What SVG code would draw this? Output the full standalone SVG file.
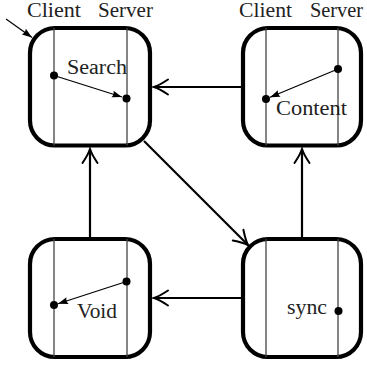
<svg xmlns="http://www.w3.org/2000/svg" width="367" height="368" viewBox="0 0 367 368">
<defs>
<marker id="to" markerUnits="userSpaceOnUse" markerWidth="20" markerHeight="20" viewBox="-16 -10 20 20" refX="0" refY="0" orient="auto">
<path d="M -14 -7.5 Q -5 -1.5 0 0 Q -5 1.5 -14 7.5" fill="none" stroke="#000" stroke-width="2" stroke-linecap="round"/>
</marker>
<marker id="small" markerUnits="userSpaceOnUse" markerWidth="14" markerHeight="10" viewBox="-11 -5 14 10" refX="0" refY="0" orient="auto">
<path d="M -10 -3.5 L 0 0 L -10 3.5 Q -8 0 -10 -3.5 Z" fill="#000"/>
</marker>
</defs>
<style>
.box{fill:#fff;stroke:#000;stroke-width:4.2}
.life{stroke:#444;stroke-width:1.3}
.dot{fill:#000}
.msg{stroke:#000;stroke-width:1.2;fill:none;marker-end:url(#small)}
.edge{stroke:#000;stroke-width:2.2;fill:none;marker-end:url(#to)}
text{font-family:"Liberation Serif","DejaVu Serif",serif;font-size:20px;fill:#222}
</style>
<g id="connectors">
<line class="edge" x1="241" y1="87" x2="154" y2="87"/>
<line class="edge" x1="144" y1="141" x2="248" y2="245"/>
<line class="edge" x1="302" y1="237" x2="302" y2="149"/>
<line class="edge" x1="241" y1="298" x2="154" y2="298"/>
<line class="edge" x1="90" y1="237" x2="90" y2="149"/>
<line x1="6" y1="19" x2="32" y2="37.5" stroke="#000" stroke-width="1.2" marker-end="url(#small)"/>
</g>
<g id="labels">
<text x="27" y="17" textLength="54" lengthAdjust="spacingAndGlyphs">Client</text>
<text x="98" y="17" textLength="55" lengthAdjust="spacingAndGlyphs">Server</text>
<text x="239" y="17" textLength="53" lengthAdjust="spacingAndGlyphs">Client</text>
<text x="310" y="17" textLength="53" lengthAdjust="spacingAndGlyphs">Server</text>
</g>
<g id="node-search">
<rect class="box" x="30" y="28" width="120" height="117.5" rx="25" ry="25"/>
<line class="life" x1="54" y1="28" x2="54" y2="145.5"/>
<line class="life" x1="127" y1="28" x2="127" y2="145.5"/>
<circle class="dot" cx="54" cy="75.5" r="4"/>
<circle class="dot" cx="126.5" cy="98.5" r="4"/>
<line class="msg" x1="54" y1="75.5" x2="122" y2="97"/>
<text x="67" y="74" textLength="60" lengthAdjust="spacingAndGlyphs">Search</text>
</g>
<g id="node-content">
<rect class="box" x="243" y="28" width="118" height="117.5" rx="25" ry="25"/>
<line class="life" x1="266" y1="28" x2="266" y2="145.5"/>
<line class="life" x1="338" y1="28" x2="338" y2="145.5"/>
<circle class="dot" cx="338" cy="69" r="4"/>
<circle class="dot" cx="266" cy="99" r="4"/>
<line class="msg" x1="338" y1="69" x2="270" y2="97.3"/>
<text x="276" y="115" textLength="71" lengthAdjust="spacingAndGlyphs">Content</text>
</g>
<g id="node-void">
<rect class="box" x="30" y="239" width="120" height="118" rx="25" ry="25"/>
<line class="life" x1="54" y1="239" x2="54" y2="357"/>
<line class="life" x1="127" y1="239" x2="127" y2="357"/>
<circle class="dot" cx="126.5" cy="281.5" r="4"/>
<circle class="dot" cx="54" cy="305" r="4"/>
<line class="msg" x1="126.5" y1="281.5" x2="58" y2="303.7"/>
<text x="77" y="318" textLength="40" lengthAdjust="spacingAndGlyphs">Void</text>
</g>
<g id="node-sync">
<rect class="box" x="243" y="239" width="118" height="118" rx="25" ry="25"/>
<line class="life" x1="266" y1="239" x2="266" y2="357"/>
<line class="life" x1="338" y1="239" x2="338" y2="357"/>
<circle class="dot" cx="338.5" cy="311" r="4"/>
<text x="287" y="314" textLength="40" lengthAdjust="spacingAndGlyphs">sync</text>
</g>
</svg>
